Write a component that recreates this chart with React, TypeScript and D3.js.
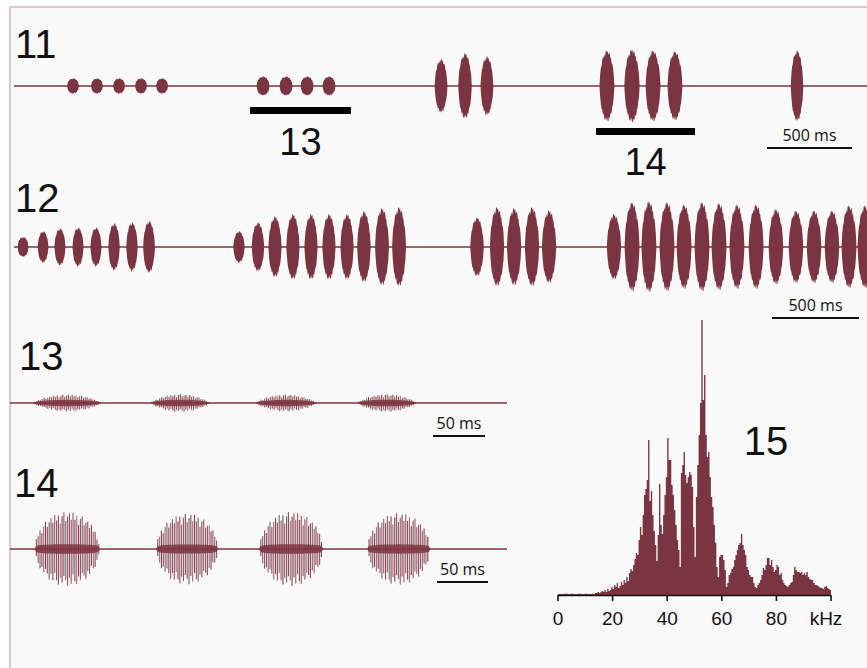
import React from 'react';
import * as d3 from 'd3';

const W = 867;
const H = 668;
const WINE = '#7b3441';

// Panel 11 – song overview. centre (ms), duration (ms), peak amplitude (% full scale)
const p11Time = [347, 488, 618, 747, 871, 1465, 1600, 1724, 1853, 2512, 2653, 2782, 3488, 3635, 3759, 3888, 4606];
const p11Dur = [70, 70, 70, 70, 70, 76, 76, 76, 76, 76, 80, 76, 88, 90, 88, 88, 74];
const p11Amp = [17, 17, 17, 17, 17, 21, 21, 21, 21, 59, 72, 65, 78, 80, 78, 76, 78];
// sections expanded in panels 13 and 14 (ms)
const p11Marks = [
  { label: '13', from: 1388, to: 1982 },
  { label: '14', from: 3424, to: 4006 },
];

// Panel 12 – another sequence
const p12Time = [
  52, 167, 264, 368, 471, 575, 678, 776,
  1293, 1402, 1500, 1603, 1707, 1810, 1914, 2011, 2115, 2213,
  2661, 2776, 2874, 2977, 3075,
  3448, 3552, 3649, 3753, 3851, 3954, 4052, 4155, 4265, 4379, 4494, 4598, 4701, 4799, 4891,
];
const p12Dur = [
  62, 62, 64, 64, 64, 66, 66, 68,
  66, 72, 76, 76, 76, 76, 76, 78, 80, 80,
  78, 82, 82, 82, 82,
  82, 86, 86, 86, 86, 86, 86, 86, 86, 84, 84, 84, 84, 86, 86,
];
const p12Amp = [
  22, 35, 41, 43, 43, 52, 54, 57,
  35, 54, 67, 72, 72, 72, 72, 78, 85, 87,
  65, 87, 85, 87, 80,
  72, 98, 100, 98, 93, 98, 96, 93, 93, 83, 80, 80, 80, 91, 91,
];

// Panel 13 – expanded syllables: start / end (ms), amplitude (%)
const p13Start = [22, 135, 236, 334];
const p13End = [88, 192, 295, 391];
const p13Amp = [21, 22, 21, 22];

// Panel 14 – expanded syllables
const p14Start = [24, 143, 244, 350];
const p14End = [88, 204, 307, 412];
const p14Amp = [92, 88, 92, 89];

const carrierMs = 1.8;

// Panel 15 – amplitude spectrum, 0.5 kHz bins from 0 to 100 kHz (relative units)
const spectrum = [
  1, 1, 1, 1, 1, 1.5, 1, 1, 1, 1, 1.5, 1, 1, 1, 1, 1.5, 1, 1, 1, 1,
  1.5, 1, 1, 1, 1, 1.5, 1, 2, 2, 3, 2, 3, 4, 3, 5, 3, 6, 4, 5, 8,
  6, 10, 8, 12, 7, 9, 13, 10, 15, 12, 18, 14, 22, 26, 24, 30, 36, 42, 40, 55,
  68, 60, 80, 100, 106, 115, 155, 94, 104, 80, 64, 50, 34, 60, 111, 70, 61, 80, 100, 118,
  157, 135, 135, 110, 100, 85, 70, 55, 45, 28, 122, 130, 143, 120, 112, 118, 123, 120, 108, 68,
  38, 98, 130, 160, 192, 275, 195, 220, 160, 138, 143, 118, 98, 88, 70, 52, 28, 18, 38, 40,
  40, 35, 25, 8, 12, 20, 22, 26, 28, 35, 40, 45, 50, 52, 61, 50, 45, 40, 28, 25,
  20, 18, 18, 12, 8, 7, 10, 12, 15, 20, 27, 25, 30, 37, 37, 30, 35, 28, 23, 25,
  30, 28, 20, 22, 15, 12, 10, 9, 8, 10, 12, 13, 20, 28, 25, 23, 23, 22, 23, 20,
  22, 20, 23, 18, 16, 15, 15, 12, 10, 10, 9, 8, 7, 7, 6, 8, 9, 7, 6, 5,
];
const freqTicks = [0, 20, 40, 60, 80, 100];

// edge roughness of the oscillogram envelopes
const JAG_TOP = [1, 0.93, 0.99, 0.88, 0.97, 1, 0.9, 0.96, 0.85, 0.98];
const JAG_BOT = [0.95, 1, 0.9, 0.98, 0.86, 0.97, 1, 0.91, 0.99, 0.88];
const STRIPE_UP = [1, 0.82, 0.95, 0.7, 0.9, 1, 0.76, 0.88, 0.97, 0.8];
const STRIPE_DN = [0.85, 1, 0.78, 0.95, 0.7, 0.9, 1, 0.8, 0.92, 0.74];
const STRIPE_COL = ['#843848', '#9a4859', '#6a5a5e', '#843848', '#a65a6a', '#7a3242', '#8e4152', '#646062', '#9a4859'];

const env = (u: number, k: number) => Math.pow(Math.max(0, 1 - u * u), k);

function pulseArea(x: any, y: any, t: number, d: number, a: number, k: number) {
  const n = Math.max(12, Math.round((x(t + d / 2) - x(t - d / 2)) * 1.5));
  const pts = d3.range(n + 1).map((i) => {
    const u = -1 + (2 * i) / n;
    const e = a * env(u, k);
    return {
      t: t + (u * d) / 2,
      top: e * JAG_TOP[i % JAG_TOP.length],
      bot: e * JAG_BOT[(i + 3) % JAG_BOT.length],
    };
  });
  return d3
    .area<any>()
    .x((p) => x(p.t))
    .y0((p) => y(-p.bot))
    .y1((p) => y(p.top))(pts) as string;
}

const Overview = ({ times, durs, amps, base, x0, x1, domainMax }: any) => {
  const x = d3.scaleLinear().domain([0, domainMax]).range([x0, x1]);
  const y = d3.scaleLinear().domain([-100, 100]).range([base + 46, base - 46]);
  return (
    <g>
      <line x1={14} x2={W} y1={base} y2={base} stroke={WINE} strokeWidth={1.6} />
      {times.map((t: number, i: number) => (
        <path key={i} d={pulseArea(x, y, t, durs[i], amps[i], amps[i] < 30 ? 0.5 : 0.62)} fill={WINE} />
      ))}
    </g>
  );
};

const Expanded = ({ starts, ends, amps, base, domainMax, kind }: any) => {
  const x = d3.scaleLinear().domain([0, domainMax]).range([10, 507]);
  const y = d3.scaleLinear().domain([-100, 100]).range([base + 40, base - 40]);
  return (
    <g>
      <line x1={10} x2={507} y1={base} y2={base} stroke={WINE} strokeWidth={1.6} />
      {starts.map((s: number, i: number) => {
        const e = ends[i];
        const mid = (s + e) / 2;
        const half = (e - s) / 2;
        const a = amps[i];
        const ts = d3.range(s + carrierMs, e - carrierMs * 0.5, carrierMs);
        const core = d3.range(0, 41).map((j) => {
          const u = -1 + j / 20;
          const c = kind === 14 ? a * 0.13 * env(u, 0.2) : a * 0.38 * env(u, 0.6);
          return { t: mid + u * half, c };
        });
        const coreD = d3
          .area<any>()
          .x((p) => x(p.t))
          .y0((p) => y(-p.c))
          .y1((p) => y(p.c))(core) as string;
        return (
          <g key={i}>
            {ts.map((t: number, j: number) => {
              const u = (t - mid) / half;
              const h = kind === 14 ? a * env(u * 1.02, 0.5) : a * env(u, 0.85);
              return (
                <line
                  key={j}
                  x1={x(t)}
                  x2={x(t)}
                  y1={y(h * STRIPE_UP[j % STRIPE_UP.length])}
                  y2={y(-h * STRIPE_DN[(j + 4) % STRIPE_DN.length])}
                  stroke={STRIPE_COL[(j + i * 3) % STRIPE_COL.length]}
                  strokeWidth={1.1}
                  opacity={0.92}
                />
              );
            })}
            <path d={coreD} fill={WINE} opacity={0.85} />
          </g>
        );
      })}
    </g>
  );
};

const ScaleBar = ({ x, ms, y, label }: any) => (
  <g>
    <line x1={x} x2={x + ms} y1={y} y2={y} stroke="#111" strokeWidth={2} />
    <text x={x + ms / 2} y={y - 7} textAnchor="middle" fontFamily="'Open Sans', sans-serif" fontSize={16} fill="#111">
      {label}
    </text>
  </g>
);

const Label = ({ x, y, text, anchor = 'start' }: any) => (
  <text x={x} y={y} textAnchor={anchor} fontFamily="'Liberation Sans', Arial, sans-serif" fontSize={40} fill="#111">
    {text}
  </text>
);

export default function App() {
  const x11 = d3.scaleLinear().domain([0, 5000]).range([14, 864]);
  const x12 = d3.scaleLinear().domain([0, 4900]).range([14, 866.6]);
  const x13 = d3.scaleLinear().domain([0, 478]).range([10, 507]);
  const x14 = d3.scaleLinear().domain([0, 487]).range([10, 507]);

  const fx = d3.scaleLinear().domain([0, 100]).range([558, 831]);
  const fy = d3.scaleLinear().domain([0, 280]).range([595, 315]);
  const specPath = d3
    .area<number>()
    .curve(d3.curveStepAfter)
    .x((_, i) => fx(i * 0.5))
    .y0(fy(0))
    .y1((v) => fy(v))([...spectrum, spectrum[spectrum.length - 1]]) as string;

  return (
    <svg width={W} height={H} style={{ position: 'absolute', left: 0, top: 0 }}>
      <rect x={0} y={0} width={W} height={H} fill="#ffffff" />
      <rect x={10} y={7} width={W + 20} height={H + 20} fill="#f9f9f9" stroke="#c9a6a9" strokeWidth={1.2} />

      {/* 11 */}
      <Label x={15} y={58} text="11" />
      <Overview times={p11Time} durs={p11Dur} amps={p11Amp} base={86} x0={14} x1={864} domainMax={5000} />
      {p11Marks.map((m) => (
        <g key={m.label}>
          <line x1={x11(m.from)} x2={x11(m.to)} y1={m.label === '13' ? 110.5 : 131.5} y2={m.label === '13' ? 110.5 : 131.5} stroke="#000" strokeWidth={7} />
          <text
            x={(x11(m.from) + x11(m.to)) / 2}
            y={m.label === '13' ? 155 : 175}
            textAnchor="middle"
            fontFamily="'Liberation Sans', Arial, sans-serif"
            fontSize={38}
            fill="#111"
          >
            {m.label}
          </text>
        </g>
      ))}
      <ScaleBar x={767} ms={x11(500) - x11(0)} y={148} label="500 ms" />

      {/* 12 */}
      <Label x={15} y={212} text="12" />
      <Overview times={p12Time} durs={p12Dur} amps={p12Amp} base={247} x0={14} x1={866.6} domainMax={4900} />
      <ScaleBar x={772} ms={x12(500) - x12(0)} y={318} label="500 ms" />

      {/* 13 */}
      <Label x={19} y={370} text="13" />
      <Expanded starts={p13Start} ends={p13End} amps={p13Amp} base={403} domainMax={478} kind={13} />
      <ScaleBar x={433} ms={x13(50) - x13(0)} y={436} label="50 ms" />

      {/* 14 */}
      <Label x={14} y={497} text="14" />
      <Expanded starts={p14Start} ends={p14End} amps={p14Amp} base={549} domainMax={487} kind={14} />
      <ScaleBar x={437} ms={x14(50) - x14(0)} y={582} label="50 ms" />

      {/* 15 spectrum */}
      <Label x={766} y={455} text="15" anchor="middle" />
      <path d={specPath} fill={WINE} />
      <line x1={fx(0)} x2={fx(100)} y1={595.5} y2={595.5} stroke="#111" strokeWidth={1.6} />
      {freqTicks.map((f) => (
        <g key={f}>
          <line x1={fx(f)} x2={fx(f)} y1={595} y2={601} stroke="#111" strokeWidth={1.6} />
          <text
            x={f === 100 ? fx(f) - 5 : fx(f)}
            y={625}
            textAnchor="middle"
            fontFamily="'Liberation Sans', Arial, sans-serif"
            fontSize={19}
            fill="#111"
          >
            {f === 100 ? 'kHz' : f}
          </text>
        </g>
      ))}
    </svg>
  );
}
